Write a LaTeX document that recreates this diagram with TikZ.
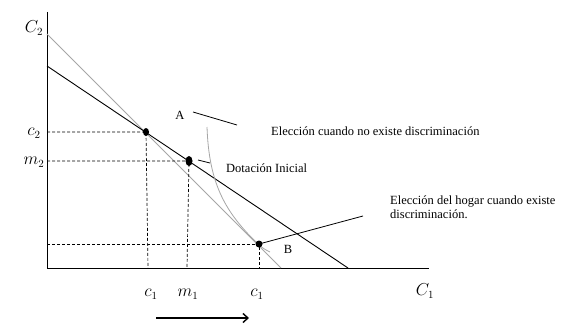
\documentclass[tikz,border=0pt]{standalone}
\usepackage{fontspec}
\setmainfont{Liberation Serif}
\usetikzlibrary{shapes.geometric,arrows.meta}

\tikzset{
  budget/.style={line width=0.9pt},
  oldbudget/.style={line width=0.9pt, gray!70},
  guide/.style={line width=0.7pt, dash pattern=on 3pt off 2pt},
  dot/.style={ellipse, fill=black, inner sep=0pt, minimum width=6pt, minimum height=8pt},
  note/.style={font=\fontsize{12.5}{14}\selectfont, inner sep=0pt},
  axlabel/.style={font=\fontsize{16}{18}\selectfont, inner sep=0pt},
}

\begin{document}
\begin{tikzpicture}[x=1pt, y=-1pt]
    \useasboundingbox (0,0) rectangle (569,326);

    \draw[line width=1pt] (47,12) -- (47,268) -- (429,268);
    \node[axlabel] (C2) at (34,28) {$C_2$};
    \node[axlabel] (C1) at (425,291) {$C_1$};

    \draw[oldbudget] (47,34) -- (281,268);
    \draw[budget] (47,66) -- (348,268);
    \draw[gray!70, line width=0.8pt] (207,127) .. controls (209,185) and (226,213) .. (258,244)
      .. controls (262,248) and (266,250) .. (270,252);

    \node[dot] (pA) at (146,132) {};
    \node[dot, minimum width=7pt, minimum height=10pt] (pE) at (189,161) {};
    \node[dot, minimum width=7pt, minimum height=7pt] (pB) at (259,244) {};

    \draw[guide] (47,132) -- (pA.center) -- (148,268);
    \draw[guide] (47,161) -- (pE.center) -- (187,268);
    \draw[guide] (47,244) -- (pB.center) -- (259,268);

    \node[axlabel] (lc2) at (34,133) {$c_2$};
    \node[axlabel] (lm2) at (34,162) {$m_2$};
    \node[axlabel] (lc1a) at (151,294) {$c_1$};
    \node[axlabel] (lm1) at (188,294) {$m_1$};
    \node[axlabel] (lc1b) at (257,294) {$c_1$};

    \node[note] (A) at (180,115) {A};
    \node[note] (B) at (288,249) {B};
    \node[note, anchor=west] (tA) at (271,131) {Elección cuando no existe discriminación};
    \node[note, anchor=west] (tE) at (226,168) {Dotación Inicial};
    \node[note, anchor=north west, align=left] (tB) at (390,196) {Elección del hogar cuando existe\\discriminación.};

    \coordinate (a1) at (193,112);
    \coordinate (a2) at (237,125);
    \coordinate (e1) at (198,160);
    \coordinate (e2) at (210,163);
    \coordinate (b2) at (363,216);
    \draw[line width=0.8pt] (a1) -- (a2);
    \draw[line width=0.8pt] (e1) -- (e2);
    \draw[line width=0.8pt] (pB.center) -- (b2);

    \coordinate (s1) at (156,318);
    \coordinate (s2) at (249,318);
    \draw[line width=1.4pt, -{Straight Barb[length=5pt, width=9pt]}] (s1) -- (s2);
\end{tikzpicture}
\end{document}
